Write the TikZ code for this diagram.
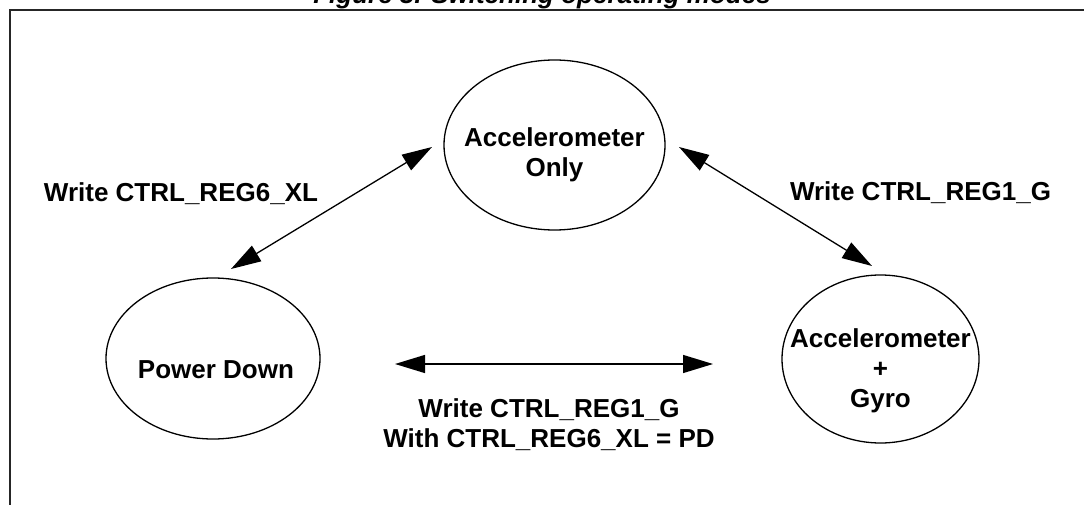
\documentclass[tikz,border=0pt]{standalone}
\usepackage{fontspec}
\setmainfont{Liberation Sans}
\usetikzlibrary{shapes.geometric,arrows.meta}
\begin{document}
\begin{tikzpicture}[x=1pt,y=-1pt,
  lbl/.style={font=\fontsize{26}{31}\selectfont\bfseries, text=black, inner sep=0pt, anchor=base},
  state/.style={ellipse, draw=black, line width=1.3pt, inner sep=0pt},
  dblarrow/.style={{Triangle[length=30pt,width=18pt]}-{Triangle[length=30pt,width=18pt]}, line width=1.3pt, draw=black},
  frameline/.style={line width=2pt, draw=black!85}
]
\useasboundingbox (0,0) rectangle (1084,505);
\fill[white] (0,0) rectangle (1084,505);

% title (cut off at top)
\node[lbl, font=\fontsize{26}{31}\selectfont\bfseries\itshape] (title) at (542,4) {Figure 3. Switching operating modes};

% frame
\coordinate (fbl) at (10,510);
\coordinate (ftl) at (10,10);
\coordinate (ftr) at (1090,10);
\draw[frameline] (fbl) -- (ftl) -- (ftr);

% states
\node[state, minimum width=221pt, minimum height=170pt] (ao) at (554.5,145) {};
\node[lbl] (ao1) at (554.5,147) {Accelerometer};
\node[lbl] (ao2) at (554.5,177) {Only};

\node[state, minimum width=214pt, minimum height=161pt] (pd) at (213,358.5) {};
\node[lbl] (pd1) at (216,378) {Power Down};

\node[state, minimum width=197pt, minimum height=168pt] (ag) at (880.5,359) {};
\node[lbl] (ag1) at (880.5,347) {Accelerometer};
\node[lbl] (ag2) at (880.5,377) {+};
\node[lbl] (ag3) at (880.5,407) {Gyro};

% arrow end points
\coordinate (l1) at (231,269);
\coordinate (l2) at (432,147);
\coordinate (r1) at (679,147);
\coordinate (r2) at (872,266);
\coordinate (h1) at (395,364);
\coordinate (h2) at (713,364);

\draw[dblarrow] (l1) -- (l2);
\draw[dblarrow] (r1) -- (r2);
\draw[dblarrow] (h1) -- (h2);

% labels
\node[lbl] (labl) at (181,202) {Write CTRL\_REG6\_XL};
\node[lbl] (labr) at (920.5,201) {Write CTRL\_REG1\_G};
\node[lbl] (labb1) at (549,417) {Write CTRL\_REG1\_G};
\node[lbl] (labb2) at (549,447) {With CTRL\_REG6\_XL = PD};
\end{tikzpicture}
\end{document}
